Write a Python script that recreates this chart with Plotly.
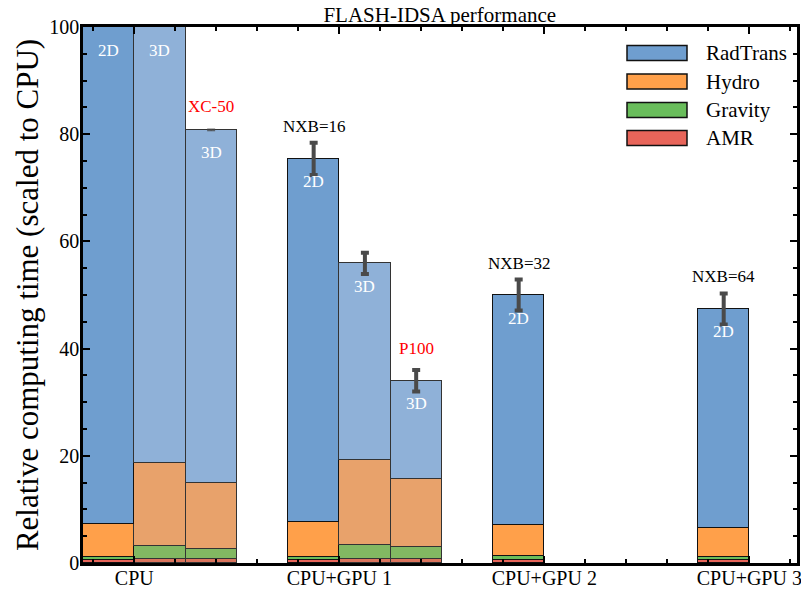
import plotly.graph_objects as go

# ---- data ----
categories = ["CPU", "CPU+GPU 1", "CPU+GPU 2", "CPU+GPU 3"]
category_pos = [1, 5, 9, 13]
bar_x = [0.5, 1.5, 2.5, 4.5, 5.5, 6.5, 8.5, 12.5]
dims = ["2D", "3D", "3D", "2D", "3D", "3D", "2D", "2D"]
amr = [0.5, 0.75, 0.75, 0.5, 0.8, 0.8, 0.55, 0.55]
gravity = [0.6, 2.45, 1.8, 0.7, 2.6, 2.2, 0.7, 0.5]
hydro = [6.2, 15.4, 12.45, 6.4, 15.8, 12.6, 5.85, 5.45]
radtrans = [92.7, 81.4, 65.8, 67.8, 36.7, 18.4, 42.9, 40.9]
errors = [None, None, 0.15, 3.0, 2.0, 2.0, 2.9, 2.9]
top_labels = [None, None, "XC-50", "NXB=16", None, "P100", "NXB=32", "NXB=64"]
top_label_colors = [None, None, "red", "black", None, "red", "black", "black"]

series_names = ["AMR", "Gravity", "Hydro", "RadTrans"]
colors_2d = {"RadTrans": "#6f9ecf", "Hydro": "#ffa04a", "Gravity": "#69bd5b", "AMR": "#e8655a"}
colors_3d = {"RadTrans": "#8fb1d8", "Hydro": "#e8a26b", "Gravity": "#82b862", "AMR": "#d9735c"}
values = {"AMR": amr, "Gravity": gravity, "Hydro": hydro, "RadTrans": radtrans}

FONT = "Liberation Serif, Times New Roman, serif"

fig = go.Figure()
for name in series_names:
    cols = [colors_2d[name] if d == "2D" else colors_3d[name] for d in dims]
    lcols = ["#111111" if d == "2D" else "#333333" for d in dims]
    fig.add_trace(go.Bar(
        x=bar_x, y=values[name], width=1.0, name=name,
        marker=dict(color=cols, line=dict(color=lcols, width=1.5)),
        showlegend=False))

totals = [a + g + h + r for a, g, h, r in zip(amr, gravity, hydro, radtrans)]

# error bars (separate overlay traces; thick for measured spread, thin for tiny one)
for thick in (True, False):
    ex, ey, ee = [], [], []
    for xv, tot, e in zip(bar_x, totals, errors):
        if e is None:
            continue
        if (e >= 1) == thick:
            ex.append(xv); ey.append(tot); ee.append(e)
    fig.add_trace(go.Scatter(
        x=ex, y=ey, mode="markers", marker=dict(size=1, opacity=0),
        error_y=dict(type="data", array=ee, visible=True,
                     color="#4a4a4a", thickness=4 if thick else 1, width=4),
        showlegend=False, hoverinfo="skip"))

annotations = []
for xv, tot, d in zip(bar_x, totals, dims):
    annotations.append(dict(x=xv, y=min(tot, 100), text=d, showarrow=False,
                            xref="x", yref="y", yanchor="middle", yshift=-23,
                            font=dict(family=FONT, size=17, color="white")))
for xv, tot, lab, col in zip(bar_x, totals, top_labels, top_label_colors):
    if lab is None:
        continue
    shift = 23 if lab == "XC-50" else 32
    annotations.append(dict(x=xv, y=tot, text=lab, showarrow=False,
                            xref="x", yref="y", yanchor="middle", yshift=shift,
                            font=dict(family=FONT, size=17, color=col)))

# custom legend (wide swatches)
legend_order = ["RadTrans", "Hydro", "Gravity", "AMR"]
shapes = []
row_y = [53, 81.5, 110, 138]
plot_top, plot_bottom, plot_left, plot_right = 27, 563, 83, 797
def px_to_paper_x(px):
    return (px - plot_left) / (plot_right - plot_left)
def px_to_paper_y(py):
    return (plot_bottom - py) / (plot_bottom - plot_top)
for name, ry in zip(legend_order, row_y):
    shapes.append(dict(type="rect", xref="paper", yref="paper",
                       x0=px_to_paper_x(627), x1=px_to_paper_x(687),
                       y0=px_to_paper_y(ry + 7.5), y1=px_to_paper_y(ry - 7.5),
                       fillcolor=colors_2d[name], line=dict(color="#111111", width=1.5)))
    annotations.append(dict(x=px_to_paper_x(704), y=px_to_paper_y(ry), xref="paper", yref="paper",
                            text=name, showarrow=False, xanchor="left", yanchor="middle",
                            font=dict(family=FONT, size=21, color="black")))

axis_common = dict(showline=True, linecolor="black", linewidth=2.5, mirror="allticks",
                   ticks="inside", ticklen=7, tickwidth=2, tickcolor="black",
                   showgrid=False, zeroline=False, automargin=False,
                   tickfont=dict(family=FONT, size=20, color="black"))

fig.update_layout(
    width=801, height=590,
    margin=dict(l=83, r=4, t=27, b=27),
    barmode="stack", bargap=0,
    plot_bgcolor="white", paper_bgcolor="white",
    title=dict(text="FLASH-IDSA performance", x=0.549, xanchor="center", y=0.975, yanchor="middle",
               font=dict(family=FONT, size=21, color="black")),
    xaxis=dict(range=[0, 13.93], tickmode="array", tickvals=category_pos, ticktext=categories,
               ticklabelstandoff=-5, ticklabeloverflow="allow",
               minor=dict(tickmode="linear", tick0=1, dtick=0.8, ticks="inside", ticklen=4,
                          tickwidth=2, tickcolor="black"),
               **axis_common),
    yaxis=dict(range=[0, 100], tick0=0, dtick=20, ticklabelstandoff=-3, ticklabeloverflow="allow",
               minor=dict(dtick=5, ticks="inside", ticklen=4, tickwidth=2, tickcolor="black"),
               title=dict(text="Relative computing time (scaled to CPU)", standoff=2,
                          font=dict(family=FONT, size=31, color="black")),
               **axis_common),
    annotations=annotations,
    shapes=shapes,
)

fig.write_html("out.html", config={"displayModeBar": False},
               post_script="document.body.style.margin='0px';")
